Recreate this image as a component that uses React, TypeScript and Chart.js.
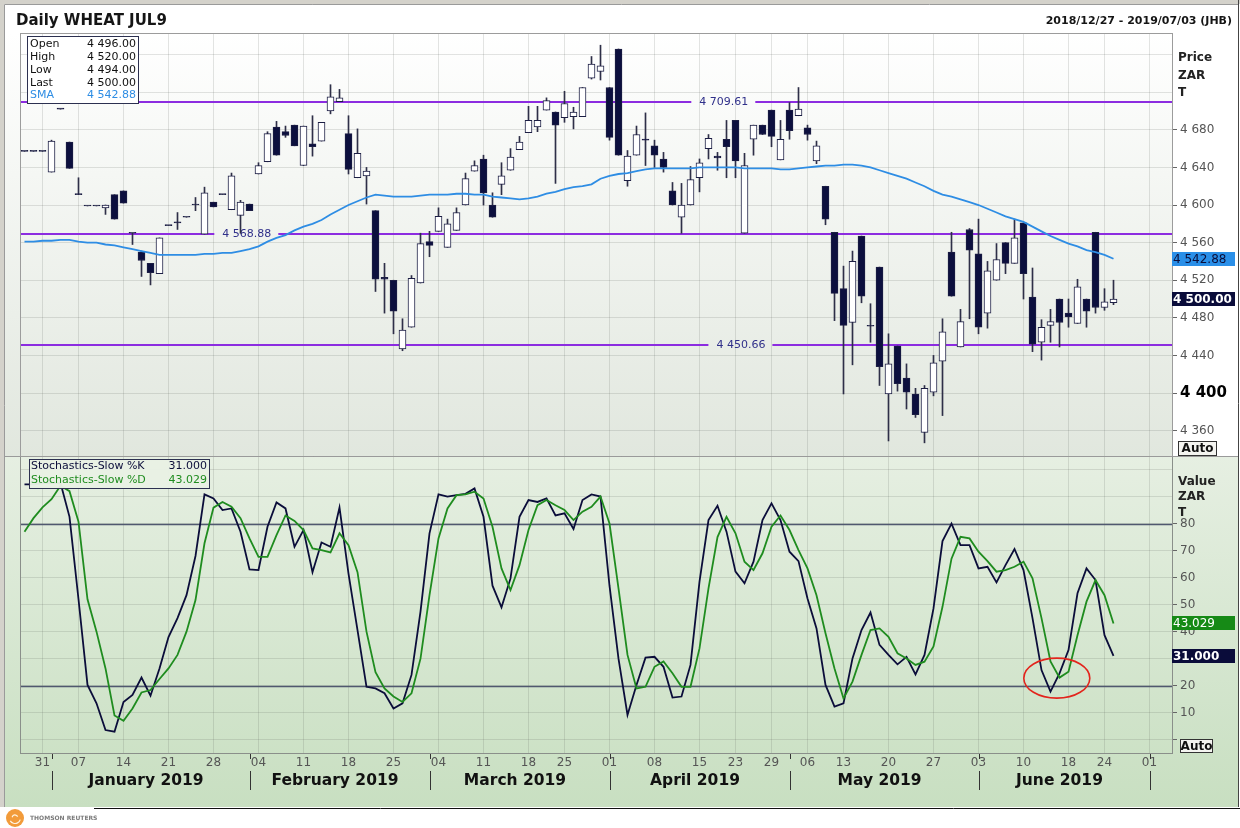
import React, { useEffect, useRef } from 'react';
import { Chart, registerables } from 'chart.js';

Chart.register(...registerables);

const FONT = '"DejaVu Sans", Verdana, sans-serif';

// ---- trading days (categories) ----
const dec2018 = [27, 28, 31];
const jan2019 = [2, 3, 4, 7, 8, 9, 10, 11, 14, 15, 16, 17, 18, 21, 22, 23, 24, 25, 28, 29, 30, 31];
const feb2019 = [1, 4, 5, 6, 7, 8, 11, 12, 13, 14, 15, 18, 19, 20, 21, 22, 25, 26, 27, 28];
const mar2019 = [1, 4, 5, 6, 7, 8, 11, 12, 13, 14, 15, 18, 19, 20, 22, 25, 26, 27, 28, 29];
const apr2019 = [1, 2, 3, 4, 5, 8, 9, 10, 11, 12, 15, 16, 17, 18, 23, 24, 25, 26, 29, 30];
const may2019 = [2, 3, 6, 7, 9, 10, 13, 14, 15, 16, 17, 20, 21, 22, 23, 24, 27, 28, 29, 30, 31];
const jun2019 = [3, 4, 5, 6, 7, 10, 11, 12, 13, 14, 18, 19, 20, 21, 24, 25, 26, 27, 28];
const jul2019 = [1, 2, 3];

const monthDays: [string, number[]][] = [
  ['2018-12', dec2018], ['2019-01', jan2019], ['2019-02', feb2019], ['2019-03', mar2019],
  ['2019-04', apr2019], ['2019-05', may2019], ['2019-06', jun2019], ['2019-07', jul2019],
];
const categories: string[] = monthDays.flatMap(([m, ds]) => ds.map((d) => `${m}-${String(d).padStart(2, '0')}`));

const weekStarts = [
  '2018-12-31', '2019-01-07', '2019-01-14', '2019-01-21', '2019-01-28', '2019-02-04', '2019-02-11',
  '2019-02-18', '2019-02-25', '2019-03-04', '2019-03-11', '2019-03-18', '2019-03-25', '2019-04-01',
  '2019-04-08', '2019-04-15', '2019-04-23', '2019-04-29', '2019-05-06', '2019-05-13', '2019-05-20',
  '2019-05-27', '2019-06-03', '2019-06-10', '2019-06-18', '2019-06-24', '2019-07-01',
];
const monthLabels: [string, string][] = [
  ['2019-01', 'January 2019'], ['2019-02', 'February 2019'], ['2019-03', 'March 2019'],
  ['2019-04', 'April 2019'], ['2019-05', 'May 2019'], ['2019-06', 'June 2019'],
];
const monthSeparators = ['2019-01', '2019-02', '2019-03', '2019-04', '2019-05', '2019-06', '2019-07'];

// ---- price series ----
const opens = [
  4657, 4657, 4657, 4635, 4702, 4667, 4611, 4599, 4599, 4597,
  4611, 4615, 4570, 4550, 4538, 4527, 4578, 4581, 4587, 4600,
  4569, 4603, 4611, 4595, 4589, 4601, 4633, 4646, 4683, 4678,
  4685, 4642, 4665, 4668, 4700, 4710, 4676, 4629, 4631, 4594,
  4523, 4520, 4447, 4470, 4517, 4561, 4572, 4555, 4573, 4600,
  4636, 4649, 4600, 4622, 4637, 4659, 4677, 4683, 4701, 4699,
  4693, 4694, 4694, 4735, 4742, 4725, 4766, 4626, 4653, 4670,
  4663, 4649, 4615, 4587, 4600, 4629, 4660, 4652, 4670, 4690,
  4570, 4670, 4685, 4701, 4648, 4701, 4695, 4682, 4647, 4620,
  4571, 4511, 4475, 4567, 4471, 4534, 4399, 4450, 4416, 4399,
  4358, 4401, 4434, 4550, 4449, 4574, 4548, 4485, 4520, 4560,
  4538, 4581, 4502, 4454, 4472, 4500, 4485, 4474, 4500, 4571,
  4491, 4496,
];
const highs = [
  4657, 4657, 4657, 4669, 4702, 4667, 4629, 4599, 4599, 4600,
  4611, 4615, 4570, 4551, 4538, 4565, 4578, 4592, 4587, 4608,
  4619, 4603, 4611, 4634, 4605, 4601, 4645, 4678, 4689, 4684,
  4685, 4684, 4695, 4688, 4728, 4723, 4695, 4681, 4640, 4594,
  4538, 4520, 4479, 4525, 4570, 4572, 4597, 4585, 4597, 4634,
  4647, 4653, 4613, 4645, 4660, 4673, 4705, 4705, 4714, 4699,
  4721, 4704, 4725, 4758, 4770, 4725, 4766, 4658, 4684, 4698,
  4669, 4656, 4624, 4623, 4641, 4649, 4675, 4656, 4690, 4690,
  4655, 4685, 4685, 4701, 4690, 4709, 4725, 4685, 4668, 4620,
  4571, 4535, 4551, 4567, 4495, 4534, 4463, 4450, 4431, 4405,
  4408, 4440, 4479, 4571, 4489, 4575, 4585, 4540, 4559, 4560,
  4585, 4581, 4533, 4478, 4489, 4500, 4500, 4521, 4500, 4571,
  4511, 4520,
];
const lows = [
  4657, 4657, 4657, 4635, 4702, 4639, 4611, 4599, 4599, 4590,
  4585, 4602, 4558, 4524, 4515, 4527, 4578, 4574, 4587, 4594,
  4569, 4598, 4611, 4595, 4570, 4594, 4633, 4646, 4653, 4672,
  4663, 4642, 4652, 4668, 4697, 4710, 4633, 4629, 4601, 4508,
  4485, 4463, 4445, 4470, 4517, 4545, 4572, 4555, 4573, 4600,
  4636, 4600, 4587, 4611, 4637, 4659, 4677, 4678, 4701, 4623,
  4688, 4681, 4694, 4734, 4733, 4669, 4653, 4620, 4653, 4642,
  4640, 4635, 4600, 4570, 4600, 4614, 4649, 4637, 4629, 4629,
  4570, 4653, 4675, 4662, 4648, 4670, 4695, 4669, 4644, 4579,
  4477, 4399, 4430, 4496, 4454, 4408, 4349, 4402, 4383, 4374,
  4347, 4397, 4376, 4503, 4449, 4479, 4463, 4469, 4520, 4527,
  4538, 4500, 4444, 4435, 4454, 4449, 4470, 4474, 4470, 4485,
  4488, 4494,
];
const closes = [
  4657, 4657, 4657, 4668, 4702, 4639, 4611, 4599, 4599, 4600,
  4585, 4602, 4570, 4541, 4528, 4565, 4578, 4581, 4587, 4600,
  4613, 4598, 4611, 4631, 4603, 4594, 4642, 4676, 4653, 4674,
  4663, 4684, 4662, 4688, 4715, 4714, 4638, 4655, 4636, 4521,
  4521, 4487, 4467, 4522, 4559, 4557, 4588, 4580, 4592, 4628,
  4642, 4613, 4587, 4631, 4651, 4667, 4690, 4690, 4711, 4685,
  4708, 4699, 4725, 4750, 4748, 4672, 4653, 4652, 4675, 4669,
  4653, 4640, 4600, 4600, 4627, 4645, 4671, 4650, 4662, 4647,
  4642, 4685, 4675, 4673, 4670, 4679, 4702, 4675, 4663, 4585,
  4506, 4472, 4540, 4503, 4471, 4428, 4431, 4410, 4401, 4377,
  4405, 4432, 4465, 4503, 4476, 4552, 4470, 4530, 4542, 4538,
  4565, 4527, 4452, 4470, 4476, 4475, 4481, 4513, 4487, 4491,
  4497, 4500,
];
const sma = [
  4561, 4561, 4562, 4562, 4563, 4563, 4561, 4560, 4560, 4558,
  4557, 4555, 4553, 4551, 4549, 4547, 4547, 4547, 4547, 4547,
  4548, 4548, 4549, 4549, 4551, 4553, 4556, 4561, 4565, 4568,
  4573, 4577, 4580, 4584, 4590, 4595, 4600, 4604, 4608, 4611,
  4610, 4609, 4609, 4609, 4610, 4611, 4611, 4611, 4612, 4612,
  4611, 4611, 4609, 4608, 4607, 4606, 4607, 4609, 4612, 4614,
  4617, 4619, 4620, 4622, 4628, 4631, 4633, 4634, 4636, 4638,
  4639, 4639, 4639, 4639, 4639, 4640, 4640, 4640, 4640, 4640,
  4639, 4639, 4639, 4639, 4638, 4638, 4639, 4640, 4641, 4642,
  4642, 4643, 4643, 4642, 4640, 4637, 4634, 4631, 4628, 4624,
  4620, 4615, 4611, 4609, 4606, 4603, 4600, 4596, 4592, 4588,
  4585, 4582, 4577, 4572, 4567, 4563, 4559, 4556, 4552, 4550,
  4547, 4542.88,
];

// ---- stochastics ----
const stochK = [
  94.5, 94.5, 95, 95, 95, 82.5, 52, 20.3, 13.5, 3.6,
  3, 14, 16.6, 23, 16.3, 26.4, 38, 45, 53.5, 68,
  90.8, 89.3, 85, 85.6, 77, 63, 62.8, 78.8, 87.8, 85.6,
  71.4, 77.6, 62, 73, 71.4, 85.9, 61.5, 40.6, 19.6, 19,
  17.2, 11.6, 13.5, 24, 47.4, 76.4, 90.8, 90, 90.5, 91,
  93, 82.5, 57, 49, 59.7, 82.5, 88.7, 88, 89.3, 83,
  83.8, 78, 88.7, 90.8, 90, 57, 30, 9.2, 20.3, 30.4,
  30.7, 27, 15.6, 16, 27.7, 58.5, 81.3, 86.6, 77, 62.2,
  57.9, 65.9, 81.3, 87.5, 81.3, 69.6, 66.1, 52.3, 41.2, 20.3,
  12.3, 13.5, 30.1, 40.6, 47.1, 35.1, 31.4, 27.9, 30.7, 24.2,
  31.4, 48.6, 73.5, 80, 72, 72, 63.4, 64, 58.2, 64.6,
  70.6, 62.8, 45, 25.8, 17.8, 24.6, 33.2, 54.2, 63.4, 59.1,
  38.7, 31.0,
];
const stochD = [
  77, 82, 86, 89, 94, 92, 80.7, 52, 40, 26.4,
  9, 7, 11.6, 17.5, 18.4, 22.5, 26.4, 31.4, 40, 51.7,
  72.7, 85.9, 88, 86.2, 82, 74.5, 67.7, 67.7, 75.7, 83,
  81, 77.6, 70.8, 70.2, 69.3, 76.4, 72, 62, 40, 25,
  19, 16, 14, 17.2, 30, 53.5, 74.5, 85.6, 90.5, 90.8,
  91.8, 89.3, 78.8, 63.4, 55.4, 64.6, 77.6, 86.8, 88.7, 86.8,
  85, 81.3, 84.4, 86.2, 90, 80, 56, 31.4, 19, 19.6,
  27, 29, 24.6, 19.6, 19.6, 33.8, 56, 75, 82.5, 76.4,
  65.9, 62.8, 69, 78.8, 83, 77.6, 70.2, 63.4, 53.5, 39.4,
  26.4, 15.3, 21.5, 31.4, 40.6, 41.2, 38.1, 32, 30.1, 27.7,
  28.9, 34.5, 49.2, 67, 75.1, 74.5, 69.6, 66.1, 62.2, 62.8,
  64, 65.9, 59.7, 45, 29, 23, 25.2, 38.7, 51.1, 59.1,
  53.5, 43.029,
];

// ---- ticks & levels ----
const priceTicks = [4360, 4400, 4440, 4480, 4520, 4560, 4600, 4640, 4680, 4720, 4760];
const priceTickLabels = [4360, 4400, 4440, 4480, 4520, 4560, 4600, 4640, 4680];
const stochTicks = [0, 10, 20, 30, 40, 50, 60, 70, 80, 90, 100];
const stochTickLabels = [10, 20, 30, 40, 50, 60, 70, 80];
const priceLevels = [4709.61, 4568.88, 4450.66];
const levelLabelAt = [77.7, 24.7, 79.6]; // category index where each level's label sits
const stochLevels = [80, 20];
const ellipseAt = { index: 114.7, value: 22.8 };

function fmt(v: number, d = 0): string {
  const s = v.toFixed(d);
  const [i, f] = s.split('.');
  const ii = i.replace(/\B(?=(\d{3})+(?!\d))/g, ' ');
  return f !== undefined ? `${ii}.${f}` : ii;
}

const UP = '#ffffff';
const DOWN = '#0c0f3e';
const EDGE = '#1c1e44';
const NAVY = '#0b0d3a';
const GREEN = '#1f8c1f';
const SMA_BLUE = '#2e8de4';

const decor = {
  id: 'decor',
  beforeDraw(chart: any) {
    const { ctx, width: W, height: H } = chart;
    const ca = chart.chartArea;
    const yP = chart.scales.yP;
    const yS = chart.scales.yS;
    ctx.save();
    ctx.fillStyle = '#ffffff';
    ctx.fillRect(0, 0, W, H);
    let g = ctx.createLinearGradient(0, yP.top, 0, yP.bottom);
    g.addColorStop(0, '#ffffff');
    g.addColorStop(1, '#e1e7de');
    ctx.fillStyle = g;
    ctx.fillRect(5, yP.top, ca.right - 5, yP.bottom - yP.top);
    g = ctx.createLinearGradient(0, yS.top, 0, 807);
    g.addColorStop(0, '#e6efe2');
    g.addColorStop(1, '#c8dfc1');
    ctx.fillStyle = g;
    ctx.fillRect(5, yS.top, W - 7, 807 - yS.top);
    ctx.fillStyle = '#d4d2cb';
    ctx.fillRect(0, 0, W, 4);
    ctx.fillRect(0, 0, 4, 807);
    ctx.strokeStyle = '#9a9a9a';
    ctx.lineWidth = 1;
    ctx.beginPath();
    ctx.moveTo(4.5, 4.5); ctx.lineTo(W - 2, 4.5);
    ctx.moveTo(4.5, 4.5); ctx.lineTo(4.5, 807);
    ctx.stroke();
    ctx.strokeStyle = '#444';
    ctx.beginPath();
    ctx.moveTo(W - 1.5, 0); ctx.lineTo(W - 1.5, 807);
    ctx.stroke();
    ctx.restore();
  },
  beforeDatasetsDraw(chart: any) {
    const { ctx } = chart;
    const ca = chart.chartArea;
    const { x, yP, yS } = chart.scales;
    ctx.save();
    ctx.font = `11px ${FONT}`;
    ctx.textAlign = 'center';
    ctx.textBaseline = 'middle';
    priceLevels.forEach((lv, i) => {
      const y = Math.round(yP.getPixelForValue(lv));
      const cx = x.getPixelForValue(levelLabelAt[i]);
      const txt = fmt(lv, 2);
      const tw = ctx.measureText(txt).width;
      ctx.strokeStyle = '#8c2ce0';
      ctx.lineWidth = 2;
      ctx.beginPath();
      ctx.moveTo(ca.left, y); ctx.lineTo(cx - tw / 2 - 8, y);
      ctx.moveTo(cx + tw / 2 + 7, y); ctx.lineTo(ca.right, y);
      ctx.stroke();
      ctx.fillStyle = '#30308a';
      ctx.fillText(txt, cx, y + 0.5);
    });
    stochLevels.forEach((lv) => {
      const y = Math.round(yS.getPixelForValue(lv)) + 0.5;
      ctx.strokeStyle = '#50586f';
      ctx.lineWidth = 1.6;
      ctx.beginPath();
      ctx.moveTo(ca.left, y); ctx.lineTo(ca.right, y);
      ctx.stroke();
    });
    ctx.restore();
  },
  afterDraw(chart: any) {
    const { ctx, width: W } = chart;
    const ca = chart.chartArea;
    const { x, yP, yS } = chart.scales;
    ctx.save();
    ctx.strokeStyle = '#9c9c9c';
    ctx.lineWidth = 1;
    ctx.strokeRect(ca.left + 0.5, yP.top + 0.5, ca.right - ca.left, yP.bottom - yP.top);
    ctx.strokeStyle = '#8a8f8a';
    ctx.strokeRect(ca.left + 0.5, yS.top + 0.5, ca.right - ca.left, yS.bottom - yS.top);
    ctx.strokeStyle = '#9a9a9a';
    ctx.beginPath();
    ctx.moveTo(5, yP.bottom + 0.5); ctx.lineTo(W - 2, yP.bottom + 0.5);
    ctx.stroke();

    ctx.fillStyle = '#151515';
    ctx.textBaseline = 'alphabetic';
    ctx.textAlign = 'left';
    ctx.font = `bold 15px ${FONT}`;
    ctx.fillText('Daily WHEAT JUL9', 16, 25);
    ctx.textAlign = 'right';
    ctx.font = `bold 11px ${FONT}`;
    ctx.fillText('2018/12/27 - 2019/07/03 (JHB)', 1232, 24);

    ctx.fillStyle = '#ffffff';
    ctx.fillRect(27.5, 36.5, 111, 67);
    ctx.strokeStyle = '#2c3050';
    ctx.strokeRect(27.5, 36.5, 111, 67);
    const last = closes.length - 1;
    const rows: [string, string, string][] = [
      ['Open', fmt(opens[last], 2), '#111'],
      ['High', fmt(highs[last], 2), '#111'],
      ['Low', fmt(lows[last], 2), '#111'],
      ['Last', fmt(closes[last], 2), '#111'],
      ['SMA', fmt(sma[last], 2), SMA_BLUE],
    ];
    ctx.font = `11px ${FONT}`;
    ctx.textBaseline = 'middle';
    rows.forEach(([lab, val, col], i) => {
      const y = 44 + i * 12.9;
      ctx.fillStyle = col;
      ctx.textAlign = 'left';
      ctx.fillText(lab, 30, y);
      ctx.textAlign = 'right';
      ctx.fillText(val, 136, y);
    });

    ctx.fillStyle = 'rgba(232,241,228,0.97)';
    ctx.fillRect(29.5, 459.5, 180, 29);
    ctx.strokeStyle = '#2c3050';
    ctx.strokeRect(29.5, 459.5, 180, 29);
    const srows: [string, string, string][] = [
      ['Stochastics-Slow %K', stochK[stochK.length - 1].toFixed(3), NAVY],
      ['Stochastics-Slow %D', stochD[stochD.length - 1].toFixed(3), GREEN],
    ];
    srows.forEach(([lab, val, col], i) => {
      const y = 466.5 + i * 13.5;
      ctx.fillStyle = col;
      ctx.textAlign = 'left';
      ctx.fillText(lab, 31, y);
      ctx.textAlign = 'right';
      ctx.fillText(val, 207, y);
    });

    ctx.fillStyle = '#222';
    ctx.textAlign = 'left';
    ctx.font = `bold 12px ${FONT}`;
    ['Price', 'ZAR', 'T'].forEach((t, i) => ctx.fillText(t, 1178, 58 + i * 17.5));
    ['Value', 'ZAR', 'T'].forEach((t, i) => ctx.fillText(t, 1178, 482 + i * 15.3));

    const tag = (y: number, text: string, bg: string, fg: string, bold: boolean) => {
      const yy = Math.round(y);
      ctx.fillStyle = bg;
      ctx.fillRect(1172, yy - 7, 63, 14);
      ctx.fillStyle = fg;
      ctx.font = `${bold ? 'bold ' : ''}12px ${FONT}`;
      ctx.textAlign = 'left';
      ctx.textBaseline = 'middle';
      ctx.fillText(text, 1173, yy + 0.5);
    };
    tag(yP.getPixelForValue(sma[last]), fmt(sma[last], 2), '#2a8fe8', NAVY, false);
    tag(yP.getPixelForValue(closes[last]), fmt(closes[last], 2), '#0a0c3a', '#ffffff', true);
    tag(yS.getPixelForValue(stochD[last]), stochD[last].toFixed(3), '#168a16', '#ffffff', false);
    tag(yS.getPixelForValue(stochK[last]), stochK[last].toFixed(3), '#0a0c3a', '#ffffff', true);

    const auto = (x0: number, y0: number, w: number, h: number) => {
      ctx.fillStyle = '#f4f4f0';
      ctx.fillRect(x0, y0, w, h);
      ctx.strokeStyle = '#333';
      ctx.lineWidth = 1;
      ctx.strokeRect(x0 + 0.5, y0 + 0.5, w - 1, h - 1);
      ctx.fillStyle = '#111';
      ctx.font = `bold 12px ${FONT}`;
      ctx.textAlign = 'center';
      ctx.textBaseline = 'middle';
      ctx.fillText('Auto', x0 + w / 2, y0 + h / 2 + 0.5);
    };
    auto(1178, 441, 39, 15);
    auto(1180, 739, 33, 14);

    ctx.fillStyle = '#111';
    ctx.font = `bold 15.5px ${FONT}`;
    ctx.textAlign = 'center';
    ctx.textBaseline = 'middle';
    monthLabels.forEach(([m, name]) => {
      const idx = categories.map((c, i) => (c.startsWith(m) ? i : -1)).filter((i) => i >= 0);
      const x0 = x.getPixelForValue(idx[0]);
      const x1 = x.getPixelForValue(idx[idx.length - 1]);
      ctx.fillText(name, (x0 + x1) / 2, 781);
    });
    ctx.strokeStyle = '#333';
    ctx.lineWidth = 1;
    monthSeparators.forEach((m) => {
      const i = categories.findIndex((c) => c.startsWith(m));
      const px = Math.round(x.getPixelForValue(i)) + 0.5;
      ctx.beginPath();
      ctx.moveTo(px, 771); ctx.lineTo(px, 790);
      ctx.moveTo(px, 754); ctx.lineTo(px, 759);
      ctx.stroke();
    });

    ctx.strokeStyle = '#e3241c';
    ctx.lineWidth = 1.6;
    ctx.beginPath();
    ctx.ellipse(x.getPixelForValue(ellipseAt.index), yS.getPixelForValue(ellipseAt.value), 33, 20, 0, 0, Math.PI * 2);
    ctx.stroke();

    ctx.strokeStyle = '#111';
    ctx.lineWidth = 1;
    ctx.beginPath();
    ctx.moveTo(94, 808.5); ctx.lineTo(W, 808.5);
    ctx.stroke();
    ctx.fillStyle = '#f29b3a';
    ctx.beginPath();
    ctx.arc(15, 818, 9, 0, Math.PI * 2);
    ctx.fill();
    ctx.strokeStyle = '#fff3e0';
    ctx.lineWidth = 1.2;
    ctx.beginPath();
    ctx.arc(15, 818, 5.5, 0.3, 2.6);
    ctx.stroke();
    ctx.beginPath();
    ctx.arc(15, 818, 3, 3.4, 5.8);
    ctx.stroke();
    ctx.fillStyle = '#7a7a7a';
    ctx.font = `bold 6px ${FONT}`;
    ctx.textAlign = 'left';
    ctx.textBaseline = 'middle';
    ctx.fillText('THOMSON REUTERS', 30, 818);
    ctx.restore();
  },
};

export default function App() {
  const ref = useRef<HTMLCanvasElement>(null);
  useEffect(() => {
    if (!ref.current) return;
    const bodyData = opens.map((o, i) => [o, closes[i]]);
    const wickData = lows.map((l, i) => [l, highs[i]]);
    const bodyColors = opens.map((o, i) => (closes[i] === o ? EDGE : closes[i] > o ? UP : DOWN));
    const gridCol = 'rgba(80,90,80,0.16)';

    const chart = new Chart(ref.current, {
      type: 'bar',
      data: {
        labels: categories,
        datasets: [
          { type: 'line', label: 'SMA', data: sma, yAxisID: 'yP', borderColor: SMA_BLUE, borderWidth: 1.8, pointRadius: 0, tension: 0 } as any,
          { type: 'line', label: 'Stochastics-Slow %D', data: stochD, yAxisID: 'yS', borderColor: GREEN, borderWidth: 1.8, pointRadius: 0 } as any,
          { type: 'line', label: 'Stochastics-Slow %K', data: stochK, yAxisID: 'yS', borderColor: NAVY, borderWidth: 1.8, pointRadius: 0 } as any,
          { type: 'bar', label: 'Body', data: bodyData, yAxisID: 'yP', backgroundColor: bodyColors, borderColor: EDGE, borderWidth: 1, borderSkipped: false, barThickness: 7, minBarLength: 1, grouped: false } as any,
          { type: 'bar', label: 'Wick', data: wickData, yAxisID: 'yP', backgroundColor: '#2e2f48', barThickness: 1, grouped: false } as any,
        ],
      },
      options: {
        animation: false,
        responsive: false,
        devicePixelRatio: 1,
        events: [],
        layout: { padding: { left: 20, top: 33, right: 0, bottom: 35 } },
        plugins: { legend: { display: false }, tooltip: { enabled: false } },
        scales: {
          x: {
            type: 'category',
            position: 'bottom',
            offset: true,
            grid: { color: gridCol, offset: false, drawTicks: false },
            border: { display: false },
            afterBuildTicks: (s: any) => {
              s.ticks = weekStarts.map((d) => ({ value: categories.indexOf(d) }));
            },
            afterFit: (s: any) => { s.height = 40; },
            ticks: {
              autoSkip: false,
              maxRotation: 0,
              padding: 3,
              color: '#555',
              font: { family: FONT, size: 12 },
              callback: (v: any) => categories[Number(v)].slice(8),
            },
          },
          yP: {
            type: 'linear',
            position: 'right',
            stack: 'panels',
            stackWeight: 423,
            min: 4333,
            max: 4783,
            border: { display: false },
            grid: {
              color: gridCol,
              tickLength: 5,
              tickColor: (c: any) => (priceTickLabels.includes(c.tick?.value) ? '#666' : 'transparent'),
            },
            afterBuildTicks: (s: any) => { s.ticks = priceTicks.map((v) => ({ value: v })); },
            afterFit: (s: any) => { s.width = 68; },
            ticks: {
              autoSkip: false,
              padding: 3,
              color: (c: any) => (c.tick?.value === 4400 ? '#000' : '#555'),
              font: (c: any) => (c.tick?.value === 4400 ? { family: FONT, size: 15, weight: 'bold' } : { family: FONT, size: 12 }),
              callback: (v: any) => (priceTickLabels.includes(Number(v)) ? fmt(Number(v)) : ''),
            },
          },
          yS: {
            type: 'linear',
            position: 'right',
            stack: 'panels',
            stackWeight: 297,
            min: -4.9,
            max: 105,
            border: { display: false },
            grid: {
              color: gridCol,
              tickLength: 5,
              tickColor: (c: any) => (c.tick?.value <= 80 ? '#666' : 'transparent'),
            },
            afterBuildTicks: (s: any) => { s.ticks = stochTicks.map((v) => ({ value: v })); },
            afterFit: (s: any) => { s.width = 68; },
            ticks: {
              autoSkip: false,
              padding: 3,
              color: '#555',
              font: { family: FONT, size: 12 },
              callback: (v: any) => (stochTickLabels.includes(Number(v)) ? String(v) : ''),
            },
          },
        } as any,
      },
      plugins: [decor],
    } as any);
    return () => chart.destroy();
  }, []);

  return (
    <div style={{ position: 'absolute', left: 0, top: 0, width: 1240, height: 828 }}>
      <canvas ref={ref} width={1240} height={828} style={{ display: 'block', width: 1240, height: 828 }} />
    </div>
  );
}
